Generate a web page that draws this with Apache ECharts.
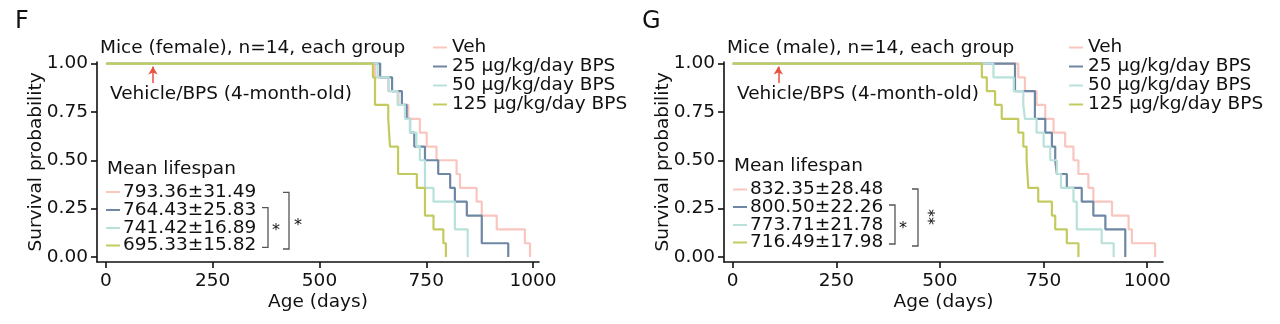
<!DOCTYPE html>
<html>
<head>
<meta charset="utf-8">
<script src="https://cdn.jsdelivr.net/npm/echarts@6/dist/echarts.min.js"></script>
<style>
  html, body { margin: 0; padding: 0; background: #fff; }
  #chart { width: 1280px; height: 324px; }
</style>
</head>
<body>
<div id="chart"></div>
<script>
// ---------- data ----------
const groupNames = ['Veh', '25 µg/kg/day BPS', '50 µg/kg/day BPS', '125 µg/kg/day BPS'];
const xTicks = [0, 250, 500, 750, 1000];
const yTicks = [0, 0.25, 0.5, 0.75, 1];

// Female (panel F): event day and survival probability after it
const femaleVehDays = [0, 630, 661, 685, 708, 735, 751, 774, 821, 829, 868, 880, 915, 981, 993];
const femaleVehSurv = [1, 0.929, 0.857, 0.786, 0.714, 0.643, 0.571, 0.5, 0.429, 0.357, 0.286, 0.214, 0.143, 0.071, 0];
const female25Days = [0, 642, 670, 693, 704, 712, 722, 747, 778, 806, 817, 845, 880, 942];
const female25Surv = [1, 0.929, 0.857, 0.786, 0.714, 0.643, 0.571, 0.5, 0.429, 0.357, 0.286, 0.214, 0.071, 0];
const female50Days = [0, 636, 662, 683, 700, 712, 727, 735, 747, 767, 817, 847];
const female50Surv = [1, 0.929, 0.857, 0.786, 0.714, 0.643, 0.571, 0.5, 0.357, 0.286, 0.143, 0];
const female125Days = [0, 625, 630, 661, 665, 684, 728, 747, 767, 790, 796];
const female125Surv = [1, 0.929, 0.786, 0.714, 0.571, 0.429, 0.357, 0.214, 0.143, 0.071, 0];

// Male (panel G)
const maleVehDays = [0, 689, 705, 733, 754, 774, 802, 822, 834, 858, 870, 915, 955, 963, 1019];
const maleVehSurv = [1, 0.929, 0.857, 0.786, 0.714, 0.643, 0.571, 0.5, 0.429, 0.357, 0.286, 0.214, 0.143, 0.071, 0];
const male25Days = [0, 681, 729, 754, 770, 778, 782, 806, 842, 870, 899, 947];
const male25Surv = [1, 0.857, 0.714, 0.643, 0.571, 0.5, 0.429, 0.357, 0.286, 0.214, 0.143, 0];
const male50Days = [0, 629, 678, 701, 705, 733, 750, 766, 782, 792, 822, 830, 890, 919];
const male50Surv = [1, 0.929, 0.857, 0.786, 0.714, 0.643, 0.571, 0.5, 0.429, 0.357, 0.286, 0.143, 0.071, 0];
const male125Days = [0, 601, 613, 633, 649, 689, 701, 709, 713, 737, 770, 778, 806, 834];
const male125Surv = [1, 0.929, 0.857, 0.786, 0.714, 0.643, 0.571, 0.5, 0.357, 0.286, 0.214, 0.143, 0.071, 0];

const femaleMeans = ['793.36±31.49', '764.43±25.83', '741.42±16.89', '695.33±15.82'];
const maleMeans = ['832.35±28.48', '800.50±22.26', '773.71±21.78', '716.49±17.98'];
const treatmentDay = 110;

// ---------- styles ----------
const colors = ['#f9c6bf', '#6e87a4', '#b9e1db', '#c3cb5f'];
const FONT = 'DejaVu Sans';
const FS = 18.5;
const TXT = '#111';

function zip(d, s) { return d.map((v, i) => [v, s[i]]); }

const femaleSets = [zip(femaleVehDays, femaleVehSurv), zip(female25Days, female25Surv), zip(female50Days, female50Surv), zip(female125Days, female125Surv)];
const maleSets = [zip(maleVehDays, maleVehSurv), zip(male25Days, male25Surv), zip(male50Days, male50Surv), zip(male125Days, male125Surv)];

function makeX(idx, max) {
  return {
    gridIndex: idx, type: 'value', min: -21, max: max,
    axisLine: { show: true, onZero: false, lineStyle: { color: TXT, width: 1.6 } },
    axisTick: { show: true, length: 6, customValues: xTicks, lineStyle: { color: TXT, width: 1.6 } },
    axisLabel: { customValues: xTicks, fontSize: FS, fontFamily: FONT, color: TXT, margin: 10,
                 formatter: v => String(v) },
    splitLine: { show: false },
    name: 'Age (days)', nameLocation: 'middle', nameGap: 31, nameMoveOverlap: false,
    nameTextStyle: { fontSize: FS, fontFamily: FONT, color: TXT }
  };
}
function makeY(idx) {
  return {
    gridIndex: idx, type: 'value', min: -0.026, max: 1.008,
    axisLine: { show: true, onZero: false, lineStyle: { color: TXT, width: 1.6 } },
    axisTick: { show: true, length: 6, customValues: yTicks, lineStyle: { color: TXT, width: 1.6 } },
    axisLabel: { customValues: yTicks, fontSize: FS, fontFamily: FONT, color: TXT, margin: 9,
                 formatter: v => v.toFixed(2) },
    splitLine: { show: false },
    name: 'Survival probability', nameLocation: 'middle', nameGap: 51, nameRotate: 90, nameMoveOverlap: false,
    nameTextStyle: { fontSize: FS, fontFamily: FONT, color: TXT }
  };
}

const series = [];
[femaleSets, maleSets].forEach((sets, p) => {
  sets.forEach((data, i) => {
    const s = {
      name: groupNames[i], type: 'line', step: 'end', data: data,
      xAxisIndex: p, yAxisIndex: p, showSymbol: false, symbol: 'none',
      color: colors[i], lineStyle: { width: 2.2, color: colors[i] }, z: 2 + i
    };
    if (i === 3) {
      s.markLine = {
        silent: true, symbol: ['none', 'arrow'], symbolSize: [7, 8],
        label: { show: false },
        lineStyle: { color: '#e8503f', width: 1.5, type: 'solid' },
        data: [[{ coord: [treatmentDay, 0.9] }, { coord: [treatmentDay, 0.985] }]]
      };
    }
    series.push(s);
  });
});

function legendAt(left) {
  return {
    left: left, top: 38, orient: 'vertical', itemGap: 0, icon: 'rect',
    itemWidth: 14, itemHeight: 2, padding: 0, data: groupNames,
    textStyle: { fontSize: FS, fontFamily: FONT, color: TXT, lineHeight: 18.7 }
  };
}

function txt(x, y, text, extra) {
  return {
    type: 'text', x: x, y: y, silent: true,
    style: Object.assign({ text: text, fontSize: FS, fontFamily: FONT, fill: TXT, align: 'left', verticalAlign: 'middle' }, extra || {})
  };
}
function bracket(x1, x2, y1, y2) {
  return { type: 'polyline', silent: true,
    shape: { points: [[x1, y1], [x2, y1], [x2, y2], [x1, y2]] },
    style: { stroke: '#555', lineWidth: 1.3, fill: null } };
}

const graphics = [];
function panelText(o) {
  graphics.push(txt(o.labelX, 22, o.label, { fontSize: 24 }));
  graphics.push(txt(o.titleX, 48, o.title));
  graphics.push(txt(o.vehX, 94, 'Vehicle/BPS (4-month-old)'));
  graphics.push(txt(o.meanX, o.rows[0], 'Mean lifespan'));
  o.means.forEach((m, i) => {
    const y = o.rows[i + 1];
    graphics.push({ type: 'line', silent: true, shape: { x1: o.meanX - 1, y1: y, x2: o.meanX + 13, y2: y },
      style: { stroke: colors[i], lineWidth: 2 } });
    graphics.push(txt(o.meanX + 16, y, m));
  });
}
panelText({ label: 'F', labelX: 15, title: 'Mice (female), n=14, each group', titleX: 100, vehX: 110,
  meanX: 107, rows: [169, 192, 210, 228, 245.5], means: femaleMeans });
panelText({ label: 'G', labelX: 642, title: 'Mice (male), n=14, each group', titleX: 727, vehX: 737,
  meanX: 734, rows: [166.5, 189.5, 207, 225, 242.5], means: maleMeans });

// significance brackets
graphics.push(bracket(262, 268, 207.7, 247.3));
graphics.push(txt(272, 231, '*', { fontSize: 16 }));
graphics.push(bracket(283, 289, 192.3, 249));
graphics.push(txt(294, 226, '*', { fontSize: 16 }));
graphics.push(bracket(889, 895, 205, 244));
graphics.push(txt(899, 229, '*', { fontSize: 16 }));
graphics.push(bracket(912, 918, 189, 246));
graphics.push({ type: 'text', silent: true, x: 927, y: 217, rotation: -Math.PI / 2,
  style: { text: '**', fontSize: 16, fontFamily: FONT, fill: TXT, align: 'center', verticalAlign: 'middle' } });

const chart = echarts.init(document.getElementById('chart'), null, { renderer: 'canvas' });
chart.setOption({
  animation: false,
  backgroundColor: '#ffffff',
  grid: [
    { left: 97, top: 62, width: 442, height: 200, containLabel: false, outerBoundsMode: 'none' },
    { left: 724, top: 62, width: 439, height: 200, containLabel: false, outerBoundsMode: 'none' }
  ],
  xAxis: [makeX(0, 1014), makeX(1, 1038)],
  yAxis: [makeY(0), makeY(1)],
  legend: [legendAt(433), legendAt(1069)],
  series: series,
  graphic: graphics
});
</script>
</body>
</html>
